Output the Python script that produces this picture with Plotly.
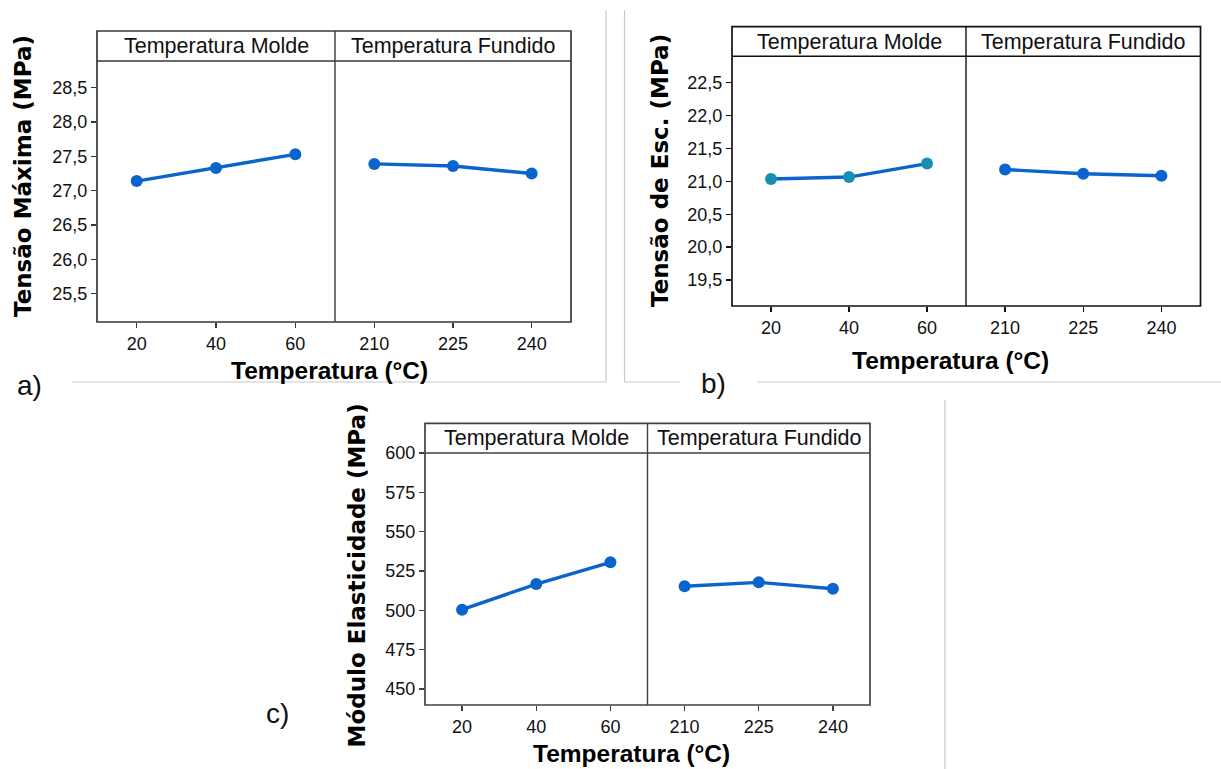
import plotly.graph_objects as go

W, H = 1221, 769

# ---------------- data ----------------
molde_temps = ["20", "40", "60"]
fundido_temps = ["210", "225", "240"]

tensao_max_molde = [27.14, 27.33, 27.53]
tensao_max_fundido = [27.39, 27.36, 27.25]

tensao_esc_molde = [21.035, 21.065, 21.27]
tensao_esc_fundido = [21.18, 21.115, 21.085]

modulo_molde = [500.4, 516.7, 530.5]
modulo_fundido = [515.3, 517.8, 513.7]

ticks_a = [25.5, 26.0, 26.5, 27.0, 27.5, 28.0, 28.5]
ticks_b = [19.5, 20.0, 20.5, 21.0, 21.5, 22.0, 22.5]
ticks_c = [450, 475, 500, 525, 550, 575, 600]

strip_labels = ["Temperatura Molde", "Temperatura Fundido"]
x_title = "Temperatura (°C)"
y_titles = ["Tensão Máxima (MPa)", "Tensão de Esc. (MPa)", "Módulo Elasticidade (MPa)"]
panel_tags = ["a)", "b)", "c)"]

# ---------------- styling / geometry ----------------
LINE = "#0a64cc"
BLUE_M = "#0a64cc"
TEAL_M = "#168fb6"
GRAY = "#c9c9c9"
TICK_FONT = dict(family="Liberation Sans, Arial, sans-serif", size=18, color="#111111")
STRIP_FONT = dict(family="Liberation Sans, Arial, sans-serif", size=21.5, color="#111111")
XT_FONT = dict(family="Liberation Sans, Arial, sans-serif", size=24.5, color="#000000")
YT_FONT = dict(family="DejaVu Sans, Verdana, sans-serif", size=23, color="#000000")
TAG_FONT = dict(family="Liberation Sans, Arial, sans-serif", size=28, color="#111111")


def fx(px):
    return px / W


def fy(py):
    return 1 - py / H


panels = [
    dict(left=97, mid=335, right=571, strip_top=31, top=61, bottom=322,
         yrange=[25.086, 28.89], yticks=ticks_a, fmt=".1f",
         molde=tensao_max_molde, fundido=tensao_max_fundido,
         mc_m=BLUE_M, mc_f=BLUE_M, frame="#383838",
         ytitle=(23.5, 176.5), xtitle=(329, 370), tag=(30, 385)),
    dict(left=732, mid=966, right=1200.5, strip_top=26.7, top=56.3, bottom=306,
         yrange=[19.105, 22.901], yticks=ticks_b, fmt=".1f",
         molde=tensao_esc_molde, fundido=tensao_esc_fundido,
         mc_m=TEAL_M, mc_f=BLUE_M, frame="#111111",
         ytitle=(660, 171), xtitle=(950, 360), tag=(714, 383)),
    dict(left=425, mid=647.5, right=870, strip_top=423.3, top=453, bottom=705,
         yrange=[439.83, 600], yticks=ticks_c, fmt="d",
         molde=modulo_molde, fundido=modulo_fundido,
         mc_m=BLUE_M, mc_f=BLUE_M, frame="#404040",
         ytitle=(356, 575.5), xtitle=(632, 753), tag=(277, 713)),
]

fig = go.Figure()
layout = dict(
    width=W, height=H, margin=dict(l=0, r=0, t=0, b=0, pad=0, autoexpand=False),
    paper_bgcolor="white", plot_bgcolor="white",
    showlegend=False, separators=",.",
)
shapes = []
annotations = []

for i, p in enumerate(panels):
    xa1 = 2 * i + 1
    xa2 = 2 * i + 2
    ya = i + 1
    xn1 = "x" if xa1 == 1 else f"x{xa1}"
    xn2 = f"x{xa2}"
    yn = "y" if ya == 1 else f"y{ya}"
    fr = p["frame"]

    common_x = dict(showgrid=False, zeroline=False, showline=False,
                    ticks="outside", ticklen=5, tickwidth=1.3, tickcolor=fr,
                    tickfont=TICK_FONT, type="category", range=[-0.5, 2.5],
                    anchor=yn, fixedrange=True, automargin=False)
    layout["xaxis" if xa1 == 1 else f"xaxis{xa1}"] = dict(
        common_x, domain=[fx(p["left"]), fx(p["mid"])])
    layout[f"xaxis{xa2}"] = dict(
        common_x, domain=[fx(p["mid"]), fx(p["right"])])
    layout["yaxis" if ya == 1 else f"yaxis{ya}"] = dict(
        showgrid=False, zeroline=False, showline=False,
        ticks="outside", ticklen=5, tickwidth=1.3, tickcolor=fr,
        tickfont=TICK_FONT, tickvals=p["yticks"], tickformat=p["fmt"],
        range=p["yrange"], domain=[fy(p["bottom"]), fy(p["top"])],
        anchor=xn1, fixedrange=True, automargin=False)

    fig.add_trace(go.Scatter(
        x=molde_temps, y=p["molde"], xaxis=xn1, yaxis=yn, mode="lines+markers",
        line=dict(color=LINE, width=3.4), marker=dict(color=p["mc_m"], size=12),
        cliponaxis=False))
    fig.add_trace(go.Scatter(
        x=fundido_temps, y=p["fundido"], xaxis=xn2, yaxis=yn, mode="lines+markers",
        line=dict(color=LINE, width=3.4), marker=dict(color=p["mc_f"], size=12),
        cliponaxis=False))

    # frame, strip line, divider
    shapes.append(dict(type="rect", xref="paper", yref="paper",
                       x0=fx(p["left"]), x1=fx(p["right"]),
                       y0=fy(p["bottom"]), y1=fy(p["strip_top"]),
                       line=dict(color=fr, width=1.7)))
    shapes.append(dict(type="line", xref="paper", yref="paper",
                       x0=fx(p["left"]), x1=fx(p["right"]),
                       y0=fy(p["top"]), y1=fy(p["top"]),
                       line=dict(color=fr, width=1.6)))
    shapes.append(dict(type="line", xref="paper", yref="paper",
                       x0=fx(p["mid"]), x1=fx(p["mid"]),
                       y0=fy(p["bottom"]), y1=fy(p["strip_top"]),
                       line=dict(color=fr, width=1.4)))

    # strip labels
    sy = fy((p["strip_top"] + p["top"]) / 2)
    annotations.append(dict(text=strip_labels[0], xref="paper", yref="paper",
                            x=fx((p["left"] + p["mid"]) / 2), y=sy,
                            xanchor="center", yanchor="middle", showarrow=False,
                            font=STRIP_FONT))
    annotations.append(dict(text=strip_labels[1], xref="paper", yref="paper",
                            x=fx((p["mid"] + p["right"]) / 2), y=sy,
                            xanchor="center", yanchor="middle", showarrow=False,
                            font=STRIP_FONT))
    # axis titles
    annotations.append(dict(text=f"<b>{x_title}</b>", xref="paper", yref="paper",
                            x=fx(p["xtitle"][0]), y=fy(p["xtitle"][1]),
                            xanchor="center", yanchor="middle", showarrow=False,
                            font=XT_FONT))
    annotations.append(dict(text=f"<b>{y_titles[i]}</b>", xref="paper", yref="paper",
                            x=fx(p["ytitle"][0]), y=fy(p["ytitle"][1]),
                            xanchor="center", yanchor="middle", showarrow=False,
                            textangle=-90, font=YT_FONT))
    annotations.append(dict(text=panel_tags[i], xref="paper", yref="paper",
                            x=fx(p["tag"][0]), y=fy(p["tag"][1]),
                            xanchor="center", yanchor="middle", showarrow=False,
                            font=TAG_FONT))

# light gray separator lines of the original page layout
for (x0, y0, x1, y1) in [(72, 382, 606, 382), (606, 10, 606, 382),
                         (624.5, 10, 624.5, 382), (624.5, 382, 680, 382),
                         (757, 382, 1221, 382), (945, 400, 945, 769)]:
    shapes.append(dict(type="line", xref="paper", yref="paper",
                       x0=fx(x0), x1=fx(x1), y0=fy(y0), y1=fy(y1),
                       line=dict(color=GRAY, width=1.2)))

layout["shapes"] = shapes
layout["annotations"] = annotations
fig.update_layout(**layout)

fig.write_html("out.html", config={"staticPlot": True},
               post_script="document.body.style.margin='0';document.body.style.overflow='hidden';")
